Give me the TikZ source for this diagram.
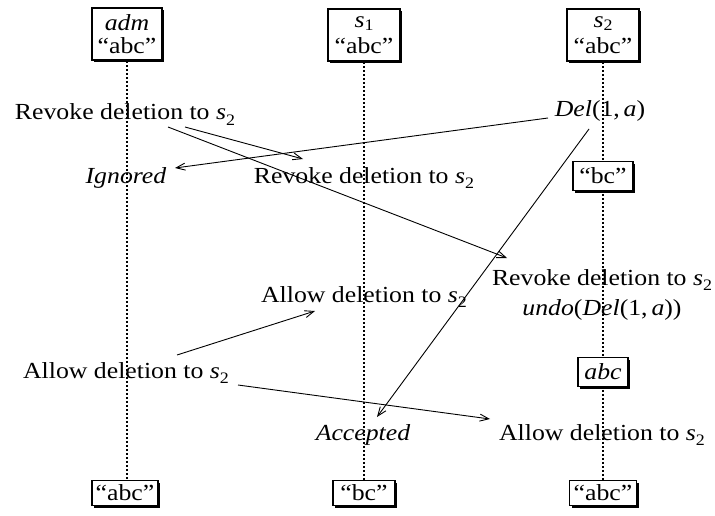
\documentclass[tikz,border=0pt]{standalone}
\usepackage{fontspec}
\setmainfont{Liberation Serif}[FakeStretch=1.12]
\usetikzlibrary{arrows.meta,shadows}
\newcommand\subs[1]{\raisebox{-0.25em}{\fontsize{16}{16}\selectfont #1}}
\newcommand\hsubs[1]{\raisebox{-0.15em}{\fontsize{16}{16}\selectfont #1}}
\tikzset{
  every node/.style={font=\fontsize{23}{22}\selectfont, inner sep=0pt},
  txt/.style={anchor=base},
  box/.style={draw, line width=1.8pt, fill=white, align=center,
    drop shadow={shadow xshift=2.2pt, shadow yshift=-2.2pt, opacity=1, fill=black}},
  lifeline/.style={line width=2pt, dash pattern=on 2pt off 2pt},
  msg/.style={line width=0.9pt, -{Straight Barb[length=9pt,width=7pt]}},
}
\begin{document}
\begin{tikzpicture}[x=1pt,y=-1pt]
\useasboundingbox (0,0) rectangle (715,516);
% header boxes
\node[box,minimum width=70pt,minimum height=52pt] (admtop) at (127,34) {\textit{adm}\\[1pt]“abc”};
\node[box,minimum width=72pt,minimum height=52pt] (sAtop) at (364,35) {\textit{s}\hsubs{1}\\[4pt]“abc”};
\node[box,minimum width=72pt,minimum height=52pt] (sBtop) at (603,35) {\textit{s}\hsubs{2}\\[4pt]“abc”};
% final boxes
\node[box,minimum width=66pt,minimum height=25pt] (admbot) at (125,493) {“abc”};
\node[box,minimum width=62pt,minimum height=25pt] (sAbot) at (364,493) {“bc”};
\node[box,minimum width=67pt,minimum height=25pt] (sBbot) at (603,493) {“abc”};
% lifelines
\draw[lifeline] (admtop.south) -- (admtop.south |- admbot.north);
\draw[lifeline] (sAtop.south) -- (sAtop.south |- sAbot.north);
\draw[lifeline] (sBtop.south) -- (sBtop.south |- sBbot.north);
% intermediate states
\node[box,minimum width=60pt,minimum height=29pt] (bcbox) at (603,176) {“bc”};
\node[box,minimum width=50pt,minimum height=29pt] (abcbox) at (603,372) {\textit{abc}};
% texts
\node[txt] (rev1) at (125,120) {Revoke deletion to \textit{s}\subs{2}};
\node[txt] (del) at (600,117) {\textit{Del}(1,\,\textit{a})};
\node[txt] (ign) at (126,183) {\textit{Ignored}};
\node[txt] (rev2) at (364,183) {Revoke deletion to \textit{s}\subs{2}};
\node[txt] (rev3) at (602,285) {Revoke deletion to \textit{s}\subs{2}};
\node[txt] (undo) at (602,315) {\textit{undo}(\textit{Del}(1,\,\textit{a}))};
\node[txt] (allowB) at (364,302) {Allow deletion to \textit{s}\subs{2}};
\node[txt] (allowA) at (126,378) {Allow deletion to \textit{s}\subs{2}};
\node[txt] (acc) at (363,440) {\textit{Accepted}};
\node[txt] (allowC) at (602,440) {Allow deletion to \textit{s}\subs{2}};
% messages
\draw[msg] ([shift={(60,7)}]rev1.base) -- ([shift={(-61,-24)}]rev2.base);
\draw[msg] ([shift={(43,7)}]rev1.base) -- ([shift={(-95,-27)}]rev3.base);
\draw[msg] ([shift={(-52,1)}]del.base) -- ([shift={(49,-15)}]ign.base);
\draw[msg] ([shift={(-11,12)}]del.base) -- ([shift={(14,-23)}]acc.base);
\draw[msg] ([shift={(51,-23)}]allowA.base) -- ([shift={(-49,9)}]allowB.base);
\draw[msg] ([shift={(112,7)}]allowA.base) -- ([shift={(-112,-21)}]allowC.base);
\end{tikzpicture}
\end{document}
